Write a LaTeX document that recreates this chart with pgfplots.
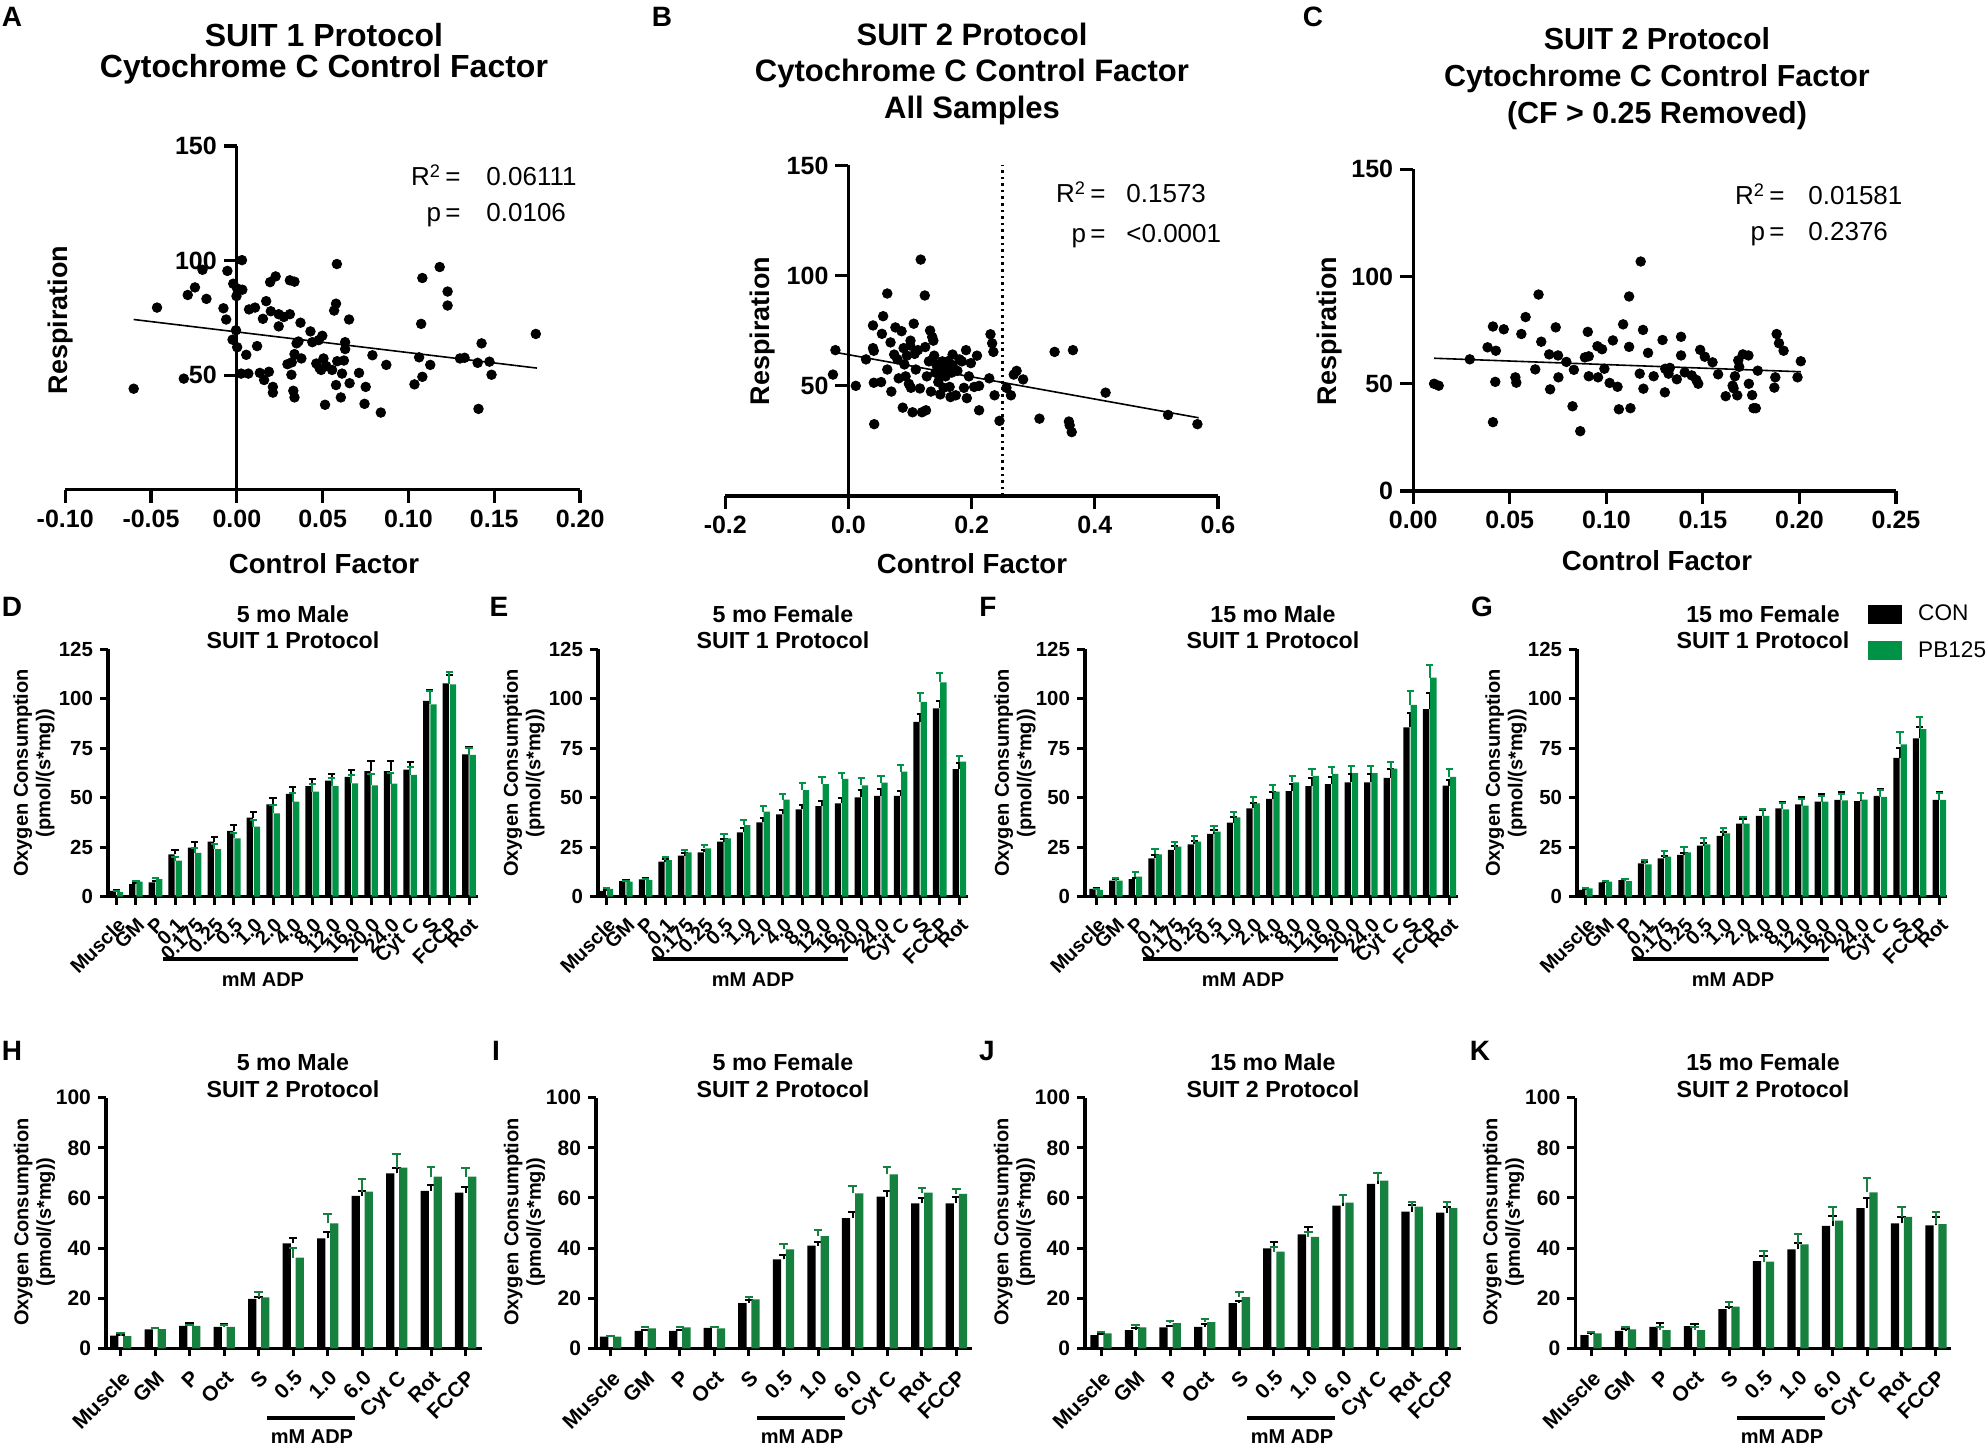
\documentclass[border=0pt]{standalone}
\usepackage{fontspec}
\setmainfont{Liberation Sans}
\usepackage{pgfplots}
\usepackage{pgfplotstable}
\pgfplotsset{compat=1.18}
\definecolor{pbg}{RGB}{0,146,69}
\definecolor{pbh}{RGB}{22,128,62}

\pgfplotsset{
  scat/.style={scale only axis, clip=false, axis x line*=bottom, tick align=outside,
    axis line style={line width=1.6pt}, major tick length=6.5pt,
    tick style={line width=1.6pt, black}, ymin=0, ymax=150,
    hide obscured x ticks=false, hide obscured y ticks=false,
    ticklabel style={font=\bfseries\fontsize{12.5}{14}\selectfont},
    /pgf/number format/assume math mode=true},
  dot/.style={only marks, mark=*, mark size=2.4pt, black},
  fit/.style={no marks, black, line width=0.8pt},
  barbase/.style={scale only axis, clip=false, axis x line*=bottom, axis y line*=left,
    tick align=outside, axis line style={line width=1.6pt}, major tick length=4pt,
    tick style={line width=1.5pt, black}, ymin=0,
    /pgf/number format/assume math mode=true},
  rowone/.style={barbase, height=123.7pt, ymax=125, ytick={0,25,50,75,100,125},
    yticklabel style={font=\bfseries\fontsize{10.2}{11}\selectfont},
    xticklabel style={font=\bfseries\fontsize{10}{11}\selectfont, rotate=45, anchor=north east, inner sep=0.5pt},
    xticklabel shift=5pt,
    xtick={0,...,18},
    xticklabels={Muscle,GM,P,0.1,0.175,0.25,0.5,1.0,2.0,4.0,8.0,12.0,16.0,20.0,24.0,Cyt C,S,FCCP,Rot}},
  rowtwo/.style={barbase, height=125.3pt, ymax=100, ytick={0,20,40,60,80,100},
    yticklabel style={font=\bfseries\fontsize{10.5}{11}\selectfont},
    xticklabel style={font=\bfseries\fontsize{10.5}{11}\selectfont, rotate=45, anchor=north east, inner sep=0.5pt},
    xticklabel shift=5.5pt,
    xtick={0,...,10},
    xticklabels={Muscle,GM,P,Oct,S,0.5,1.0,6.0,Cyt C,Rot,FCCP}},
  conA/.style={ybar, bar width=0.32, bar shift=-0.185, fill=black, draw=none,
    error bars/.cd, y dir=plus, y explicit, error bar style={line width=1pt, black},
    error mark options={rotate=90, mark size=1.8pt, line width=1pt, black}},
  pbA/.style={ybar, bar width=0.32, bar shift=0.185, fill=pbg, draw=none,
    error bars/.cd, y dir=plus, y explicit, error bar style={line width=1pt, pbg},
    error mark options={rotate=90, mark size=1.8pt, line width=1pt, pbg}},
  conB/.style={ybar, bar width=0.24, bar shift=-0.19, fill=black, draw=none,
    error bars/.cd, y dir=plus, y explicit, error bar style={line width=1pt, black},
    error mark options={rotate=90, mark size=2.1pt, line width=1pt, black}},
  pbB/.style={ybar, bar width=0.24, bar shift=0.19, fill=pbh, draw=none,
    error bars/.cd, y dir=plus, y explicit, error bar style={line width=1pt, pbh},
    error mark options={rotate=90, mark size=2.1pt, line width=1pt, pbh}},
}

\pgfplotstableread{
x con ce pb pe
0 3.0 0.5 2.5 0.4
1 6.4 0.6 7.6 0.5
2 7.2 0.8 8.9 0.5
3 21.4 2.2 18.2 1.7
4 24.8 2.7 22.2 2.2
5 27.8 2.5 24.1 2.5
6 33.2 3.0 29.5 2.8
7 39.9 2.9 35.4 3.3
8 46.7 3.0 42.1 4.1
9 51.9 3.5 48.0 4.2
10 55.9 3.7 53.1 4.0
11 58.6 3.6 55.9 4.2
12 60.6 3.6 57.3 4.2
13 63.5 5.1 56.3 5.7
14 63.5 5.2 57.1 5.6
15 64.2 3.7 61.5 4.0
16 98.9 5.7 97.2 6.6
17 107.8 4.2 107.3 6.4
18 71.9 3.9 71.6 3.4
}\tabD
\pgfplotstableread{
x con ce pb pe
0 3.0 0.4 3.9 0.4
1 7.9 0.4 7.6 0.4
2 8.8 0.6 8.4 0.4
3 17.7 1.2 18.5 1.7
4 20.7 1.5 22.4 1.2
5 22.4 1.4 24.4 1.9
6 27.8 1.3 29.5 2.0
7 32.5 2.0 36.2 2.4
8 37.6 2.0 43.0 2.8
9 41.6 2.0 49.0 3.1
10 44.1 2.2 53.9 3.4
11 45.8 2.5 56.9 3.6
12 47.2 2.7 59.5 3.2
13 50.2 3.5 56.3 3.7
14 50.9 3.5 57.6 3.4
15 51.0 2.6 63.2 3.3
16 88.3 4.2 98.4 4.7
17 95.2 3.7 108.3 4.9
18 64.5 2.9 68.2 2.9
}\tabE
\pgfplotstableread{
x con ce pb pe
0 3.9 0.4 3.4 0.5
1 8.1 0.8 8.1 1.5
2 8.9 0.6 10.1 2.2
3 19.4 1.7 21.4 2.7
4 23.6 2.0 25.3 2.5
5 26.4 1.9 27.8 2.9
6 31.7 2.2 32.9 3.0
7 37.4 2.7 40.1 2.9
8 44.6 2.6 47.2 3.3
9 49.4 3.3 53.1 3.3
10 53.4 3.7 57.8 3.2
11 55.9 3.9 61.0 3.4
12 56.9 3.7 62.0 3.7
13 57.8 4.2 62.5 3.7
14 57.8 4.2 62.5 3.7
15 60.1 4.3 64.7 3.2
16 85.6 7.1 96.9 7.2
17 94.8 8.0 110.7 6.4
18 56.1 2.9 60.6 4.1
}\tabF
\pgfplotstableread{
x con ce pb pe
0 3.4 0.3 4.2 0.3
1 7.2 0.4 7.6 0.5
2 8.4 0.4 7.9 1.0
3 16.8 0.6 16.3 2.4
4 19.4 1.2 20.2 2.9
5 21.1 1.1 22.4 2.7
6 25.8 1.5 26.4 3.1
7 30.7 1.8 32.0 2.9
8 36.9 2.2 36.9 3.2
9 40.9 2.9 40.9 3.2
10 44.6 3.4 44.1 3.1
11 46.7 3.8 46.0 3.4
12 48.0 3.9 48.0 3.0
13 48.9 3.8 48.7 3.0
14 48.3 4.1 49.0 3.4
15 50.9 3.5 50.5 3.4
16 70.2 4.8 77.0 6.4
17 80.0 5.7 84.7 6.1
18 48.9 3.8 48.9 3.7
}\tabG
\pgfplotstableread{
x con ce pb pe
0 5.1 0.4 4.9 1.1
1 7.6 0.4 7.7 0.4
2 9.0 1.2 9.0 0.3
3 8.6 1.1 8.6 0.6
4 19.7 0.9 20.3 2.0
5 41.9 2.0 36.2 3.7
6 43.9 2.4 49.9 3.7
7 60.8 2.1 62.5 5.1
8 69.8 2.1 72.1 5.3
9 62.8 2.2 68.5 3.7
10 62.1 2.4 68.5 3.3
}\tabH
\pgfplotstableread{
x con ce pb pe
0 4.7 0.3 4.7 0.3
1 7.0 0.4 8.0 0.4
2 7.0 0.4 8.4 0.3
3 8.2 0.3 8.0 0.4
4 18.0 1.3 19.5 0.8
5 35.5 1.7 39.5 2.1
6 41.0 1.4 44.8 2.3
7 51.9 2.4 61.8 3.0
8 60.5 2.4 69.4 3.1
9 57.8 2.0 62.1 1.7
10 57.8 2.4 61.6 2.1
}\tabI
\pgfplotstableread{
x con ce pb pe
0 5.3 0.4 6.0 0.5
1 7.3 0.8 8.4 0.9
2 8.4 0.6 10.0 0.9
3 8.6 1.0 10.4 1.3
4 18.0 0.9 20.4 1.9
5 39.9 2.7 38.6 2.0
6 45.5 3.0 44.5 2.0
7 56.9 4.1 58.1 2.9
8 65.6 4.5 66.9 3.2
9 54.5 2.7 56.5 2.0
10 54.1 2.4 55.9 2.3
}\tabJ
\pgfplotstableread{
x con ce pb pe
0 5.3 0.7 6.0 0.6
1 7.0 0.8 7.6 1.0
2 8.6 1.6 7.3 1.1
3 8.9 0.8 7.3 1.1
4 15.6 1.0 16.6 1.9
5 34.8 2.0 34.6 4.4
6 39.5 2.7 41.5 4.1
7 48.9 3.9 50.9 5.6
8 55.9 4.2 62.2 5.9
9 49.9 2.6 52.4 3.9
10 49.1 3.2 49.6 4.7
}\tabK

\begin{document}
\begin{tikzpicture}
\path[use as bounding box] (0,0) rectangle (994pt,724pt);

% ---------- A ----------
\begin{axis}[scat, at={(32.6pt,479.1pt)}, anchor=south west, width=257.45pt, height=171.9pt,
  xmin=-0.1, xmax=0.2, axis y line*=middle,
  xtick={-0.1,-0.05,0,0.05,0.1,0.15,0.2},
  xticklabels={-0.10,-0.05,0.00,0.05,0.10,0.15,0.20},
  ytick={50,100,150}, yticklabels={50,100,150}]
\addplot[dot] coordinates {(-0.0601,44.1) (-0.0465,79.5) (-0.0309,48.5) (-0.0286,85.0) (-0.0244,88.3) (-0.0200,96.0) (-0.0177,83.3) (-0.0078,79.2) (-0.0062,74.3) (-0.0055,95.5) (-0.0021,89.9) (-0.0002,84.5) (0.0002,87.8) (-0.0005,69.6) (-0.0025,65.5) (0.0002,62.2) (0.0030,100.2) (0.0032,87.3) (0.0025,50.7) (0.0067,50.7) (0.0055,58.9) (0.0071,78.7) (0.0106,79.5) (0.0118,62.7) (0.0134,51.0) (0.0152,74.6) (0.0171,82.3) (0.0187,51.5) (0.0159,47.9) (0.0198,77.9) (0.0210,44.9) (0.0210,42.4) (0.0194,90.6) (0.0226,93.1) (0.0244,76.6) (0.0244,71.3) (0.0274,75.4) (0.0309,91.4) (0.0336,90.8) (0.0309,76.6) (0.0295,54.8) (0.0320,55.6) (0.0318,50.2) (0.0336,59.2) (0.0329,43.2) (0.0336,40.3) (0.0359,64.7) (0.0371,72.9) (0.0348,63.9) (0.0376,57.3) (0.0429,69.1) (0.0440,64.4) (0.0477,65.3) (0.0498,67.2) (0.0463,55.1) (0.0482,53.1) (0.0505,57.3) (0.0491,52.3) (0.0521,54.0) (0.0514,37.1) (0.0555,52.3) (0.0567,78.2) (0.0578,81.2) (0.0583,98.5) (0.0585,56.1) (0.0578,45.7) (0.0613,50.7) (0.0631,64.4) (0.0631,61.4) (0.0624,56.4) (0.0606,40.3) (0.0654,74.3) (0.0657,46.5) (0.0712,51.0) (0.0751,44.9) (0.0744,37.5) (0.0790,58.7) (0.0839,33.7) (0.0871,54.5) (0.1035,46.0) (0.1062,57.8) (0.1074,72.4) (0.1081,92.4) (0.1081,49.3) (0.1127,54.5) (0.1182,97.2) (0.1228,86.5) (0.1228,80.4) (0.1300,57.3) (0.1327,57.6) (0.1403,55.4) (0.1408,35.3) (0.1426,63.9) (0.1472,55.9) (0.1484,50.2) (0.1742,68.0)};
\addplot[fit] coordinates {(-0.0601,74.3) (0.1749,53.1)};
\end{axis}

% ---------- B ----------
\begin{axis}[scat, at={(362.65pt,476pt)}, anchor=south west, width=246.35pt, height=165.25pt,
  xmin=-0.2, xmax=0.6, axis y line*=middle,
  xtick={-0.2,0,0.2,0.4,0.6}, xticklabels={-0.2,0.0,0.2,0.4,0.6},
  ytick={50,100,150}, yticklabels={50,100,150}]
\addplot[dot] coordinates {(-0.0252,55.1) (-0.0212,66.2) (0.0119,50.0) (0.0285,62.0) (0.0398,67.1) (0.0411,65.9) (0.0398,77.4) (0.0411,51.4) (0.0418,32.6) (0.0530,51.7) (0.0563,81.6) (0.0543,73.6) (0.0630,91.9) (0.0630,57.4) (0.0683,69.7) (0.0696,47.4) (0.0742,64.2) (0.0762,76.5) (0.0795,62.0) (0.0815,53.4) (0.0862,74.8) (0.0881,40.1) (0.0895,67.1) (0.0908,59.7) (0.0928,54.3) (0.0948,63.7) (0.0981,50.9) (0.1001,68.3) (0.1007,70.5) (0.1014,49.1) (0.1040,38.0) (0.1060,78.2) (0.1074,64.5) (0.1093,57.4) (0.1127,66.2) (0.1160,48.8) (0.1173,107.3) (0.1193,38.0) (0.1239,91.0) (0.1246,67.6) (0.1259,38.9) (0.1272,54.3) (0.1306,61.1) (0.1325,75.1) (0.1339,47.4) (0.1359,72.2) (0.1378,70.5) (0.1392,63.7) (0.1412,56.0) (0.1425,59.7) (0.1458,51.7) (0.1478,54.3) (0.1491,46.1) (0.1511,57.4) (0.1524,61.1) (0.1544,49.1) (0.1577,54.3) (0.1590,58.5) (0.1610,61.1) (0.1643,49.5) (0.1657,44.9) (0.1677,56.0) (0.1690,64.2) (0.1690,59.4) (0.1743,45.7) (0.1769,56.8) (0.1803,62.0) (0.1842,61.1) (0.1875,49.1) (0.1909,66.2) (0.1922,44.4) (0.1955,54.3) (0.1988,60.3) (0.2041,49.5) (0.2087,63.7) (0.2121,38.9) (0.2121,50.0) (0.2286,53.4) (0.2306,73.4) (0.2333,69.3) (0.2353,65.4) (0.2372,45.7) (0.2452,34.1) (0.2565,49.1) (0.2638,45.7) (0.2684,55.1) (0.2730,56.8) (0.2836,52.9) (0.3101,35.1) (0.3347,65.4) (0.3579,33.8) (0.3592,32.1) (0.3625,29.0) (0.3645,66.2) (0.4175,46.9) (0.5189,36.8) (0.5666,32.6)};
\addplot[fit] coordinates {(-0.0252,65.4) (0.5686,35.5)};
\addplot[no marks, black, line width=1.3pt, dotted] coordinates {(0.25,0) (0.25,150)};
\end{axis}

% ---------- C ----------
\begin{axis}[scat, at={(706.6pt,478.5pt)}, anchor=south west, width=241.4pt, height=160.85pt,
  xmin=0, xmax=0.25, axis y line*=left,
  xtick={0,0.05,0.1,0.15,0.2,0.25}, xticklabels={0.00,0.05,0.10,0.15,0.20,0.25},
  ytick={0,50,100,150}, yticklabels={0,50,100,150}]
\addplot[dot] coordinates {(0.0108,50.0) (0.0132,49.1) (0.0293,61.4) (0.0385,67.0) (0.0413,76.7) (0.0428,65.4) (0.0425,50.9) (0.0413,32.1) (0.0469,75.4) (0.0529,53.0) (0.0534,50.5) (0.0560,73.2) (0.0582,81.1) (0.0632,56.7) (0.0649,91.6) (0.0663,69.6) (0.0704,63.7) (0.0709,47.4) (0.0738,76.3) (0.0750,63.2) (0.0752,53.0) (0.0793,60.2) (0.0825,39.5) (0.0832,56.5) (0.0865,27.9) (0.0889,62.3) (0.0904,74.2) (0.0909,62.8) (0.0909,53.5) (0.0954,67.5) (0.0957,53.0) (0.0978,66.1) (0.0990,57.0) (0.1017,50.4) (0.1034,70.2) (0.1058,48.6) (0.1065,38.1) (0.1087,77.7) (0.1118,67.2) (0.1118,90.7) (0.1125,38.6) (0.1173,54.7) (0.1178,107.0) (0.1190,75.1) (0.1192,47.7) (0.1216,64.4) (0.1245,53.5) (0.1291,70.4) (0.1303,46.0) (0.1305,57.0) (0.1322,54.7) (0.1329,57.4) (0.1365,52.1) (0.1387,71.9) (0.1387,63.2) (0.1406,55.3) (0.1442,53.9) (0.1466,51.8) (0.1476,50.0) (0.1486,65.8) (0.1510,62.6) (0.1550,60.0) (0.1579,54.4) (0.1618,44.2) (0.1654,49.1) (0.1659,47.9) (0.1666,53.5) (0.1678,44.6) (0.1683,60.9) (0.1688,57.9) (0.1707,63.7) (0.1736,63.2) (0.1738,50.0) (0.1755,44.7) (0.1762,38.6) (0.1774,38.6) (0.1784,56.1) (0.1870,48.2) (0.1875,53.0) (0.1882,73.2) (0.1894,68.9) (0.1918,65.4) (0.1990,53.0) (0.2007,60.5)};
\addplot[fit] coordinates {(0.0108,61.9) (0.2007,55.6)};
\end{axis}

% ---------- D ----------
\begin{axis}[rowone, at={(54pt,275.65pt)}, anchor=south west, width=185pt, xmin=-0.424, xmax=18.459]
\addplot[conA] table[x=x, y=con, y error=ce] {\tabD};
\addplot[pbA] table[x=x, y=pb, y error=pe] {\tabD};
\end{axis}
% ---------- E ----------
\begin{axis}[rowone, at={(299pt,275.65pt)}, anchor=south west, width=185pt, xmin=-0.423, xmax=18.44]
\addplot[conA] table[x=x, y=con, y error=ce] {\tabE};
\addplot[pbA] table[x=x, y=pb, y error=pe] {\tabE};
\end{axis}
% ---------- F ----------
\begin{axis}[rowone, at={(542.5pt,275.65pt)}, anchor=south west, width=186.5pt, xmin=-0.571, xmax=18.44]
\addplot[conA] table[x=x, y=con, y error=ce] {\tabF};
\addplot[pbA] table[x=x, y=pb, y error=pe] {\tabF};
\end{axis}
% ---------- G ----------
\begin{axis}[rowone, at={(788.5pt,275.65pt)}, anchor=south west, width=185pt, xmin=-0.448, xmax=18.39,
  legend image code/.code={\fill[#1, draw=none] (0pt,-4.75pt) rectangle (17pt,4.75pt);},
  legend style={draw=none, fill=none, at={(rel axis cs:0.786,1.19)}, anchor=north west,
    font=\fontsize{11.3}{13}\selectfont, row sep=7pt, inner sep=0pt,
    nodes={inner sep=1pt}, /tikz/every odd column/.append style={column sep=7pt}},
  legend cell align=left]
\addplot[conA] table[x=x, y=con, y error=ce] {\tabG};
\addplot[pbA] table[x=x, y=pb, y error=pe] {\tabG};
\legend{CON,PB125}
\end{axis}

% ---------- H ----------
\begin{axis}[rowtwo, at={(53pt,49.85pt)}, anchor=south west, width=187.85pt, xmin=-0.426, xmax=10.464]
\addplot[conB] table[x=x, y=con, y error=ce] {\tabH};
\addplot[pbB] table[x=x, y=pb, y error=pe] {\tabH};
\end{axis}
% ---------- I ----------
\begin{axis}[rowtwo, at={(298pt,49.85pt)}, anchor=south west, width=187.85pt, xmin=-0.425, xmax=10.444]
\addplot[conB] table[x=x, y=con, y error=ce] {\tabI};
\addplot[pbB] table[x=x, y=pb, y error=pe] {\tabI};
\end{axis}
% ---------- J ----------
\begin{axis}[rowtwo, at={(542.5pt,49.85pt)}, anchor=south west, width=188pt, xmin=-0.463, xmax=10.413]
\addplot[conB] table[x=x, y=con, y error=ce] {\tabJ};
\addplot[pbB] table[x=x, y=pb, y error=pe] {\tabJ};
\end{axis}
% ---------- K ----------
\begin{axis}[rowtwo, at={(787.65pt,49.85pt)}, anchor=south west, width=188pt, xmin=-0.455, xmax=10.444]
\addplot[conB] table[x=x, y=con, y error=ce] {\tabK};
\addplot[pbB] table[x=x, y=pb, y error=pe] {\tabK};
\end{axis}

% ---------- text (pixel coordinates of the reference) ----------
\begin{scope}[x=0.5pt, y=-0.5pt, shift={(0pt,724pt)}]
\tikzset{
  let/.style={font=\bfseries\fontsize{14}{16}\selectfont, anchor=center, inner sep=0pt},
  stit/.style={font=\bfseries\fontsize{16}{18}\selectfont, anchor=base, inner sep=0pt},
  slab/.style={font=\bfseries\fontsize{13.8}{16}\selectfont, anchor=center, inner sep=0pt},
  srot/.style={font=\bfseries\fontsize{13.5}{16}\selectfont, anchor=center, inner sep=0pt, rotate=90},
  rsq/.style={font=\fontsize{13}{15}\selectfont, inner sep=0pt},
  btit/.style={font=\bfseries\fontsize{11.6}{13}\selectfont, anchor=base, inner sep=0pt},
  brot/.style={font=\bfseries\fontsize{10}{11.2}\selectfont, anchor=center, inner sep=0pt, rotate=90, align=center},
  adp/.style={font=\bfseries\fontsize{10}{11}\selectfont, anchor=center, inner sep=0pt},
}
% letters
\node[let] at (12,17) {A};
\node[let] at (662,17) {B};
\node[let] at (1313,17) {C};
\node[let] at (12,607) {D};
\node[let] at (499,607) {E};
\node[let] at (988,607) {F};
\node[let] at (1482,607) {G};
\node[let] at (12,1051) {H};
\node[let] at (496,1051) {I};
\node[let] at (987,1051) {J};
\node[let] at (1480,1051) {K};
% scatter titles
\node[stit] at (324,47) {SUIT 1 Protocol};
\node[stit] at (324,78) {Cytochrome C Control Factor};
\node[stit, font=\bfseries\fontsize{15.5}{18}\selectfont] at (972,45.5) {SUIT 2 Protocol};
\node[stit, font=\bfseries\fontsize{15.5}{18}\selectfont] at (972,81.5) {Cytochrome C Control Factor};
\node[stit, font=\bfseries\fontsize{15.5}{18}\selectfont] at (972,119) {All Samples};
\node[stit, font=\bfseries\fontsize{15.2}{18}\selectfont] at (1657,50) {SUIT 2 Protocol};
\node[stit, font=\bfseries\fontsize{15.2}{18}\selectfont] at (1657,87) {Cytochrome C Control Factor};
\node[stit, font=\bfseries\fontsize{15.2}{18}\selectfont] at (1657,124) {(CF > 0.25 Removed)};
% scatter axis labels
\node[slab] at (324,564) {Control Factor};
\node[slab] at (972,564) {Control Factor};
\node[slab] at (1657,561) {Control Factor};
\node[srot] at (61,320) {Respiration};
\node[srot] at (763,331) {Respiration};
\node[srot] at (1330,331) {Respiration};
% statistics
\node[rsq, anchor=base east] at (461,186) {R\textsuperscript{2}\,=};
\node[rsq, anchor=base west] at (486,186) {0.06111};
\node[rsq, anchor=base east] at (461,222) {p\,=};
\node[rsq, anchor=base west] at (486,222) {0.0106};
\node[rsq, anchor=base east] at (1106,203) {R\textsuperscript{2}\,=};
\node[rsq, anchor=base west] at (1126,203) {0.1573};
\node[rsq, anchor=base east] at (1106,243) {p\,=};
\node[rsq, anchor=base west] at (1126,243) {<0.0001};
\node[rsq, anchor=base east] at (1785,205) {R\textsuperscript{2}\,=};
\node[rsq, anchor=base west] at (1808,205) {0.01581};
\node[rsq, anchor=base east] at (1785,241) {p\,=};
\node[rsq, anchor=base west] at (1808,241) {0.2376};
% bar titles
\node[btit] at (293,623) {5 mo Male};
\node[btit] at (293,649) {SUIT 1 Protocol};
\node[btit] at (783,623) {5 mo Female};
\node[btit] at (783,649) {SUIT 1 Protocol};
\node[btit] at (1273,623) {15 mo Male};
\node[btit] at (1273,649) {SUIT 1 Protocol};
\node[btit] at (1763,623) {15 mo Female};
\node[btit] at (1763,649) {SUIT 1 Protocol};
\node[btit] at (293,1070) {5 mo Male};
\node[btit] at (293,1097) {SUIT 2 Protocol};
\node[btit] at (783,1070) {5 mo Female};
\node[btit] at (783,1097) {SUIT 2 Protocol};
\node[btit] at (1273,1070) {15 mo Male};
\node[btit] at (1273,1097) {SUIT 2 Protocol};
\node[btit] at (1763,1070) {15 mo Female};
\node[btit] at (1763,1097) {SUIT 2 Protocol};
% bar y labels
\foreach \xx/\yy in {34/773, 524/773, 1015/773, 1506/773, 34.5/1222, 524.5/1222, 1014.5/1222, 1503.5/1222}
  \node[brot] at (\xx,\yy) {Oxygen Consumption\\(pmol/(s*mg))};
% mM ADP brackets
\foreach \a/\b/\t/\yl/\yt in {163/358/263/959/980, 653/848/753/959/980, 1143/1338/1243/959/980, 1633/1829/1733/959/980,
  267/355/312/1418/1437, 757/845/802/1418/1437, 1247/1335/1292/1418/1437, 1737/1825/1782/1418/1437}
{
  \draw[line width=1.7pt] (\a,\yl) -- (\b,\yl);
  \node[adp] at (\t,\yt) {mM ADP};
}
\end{scope}
\end{tikzpicture}
\end{document}
